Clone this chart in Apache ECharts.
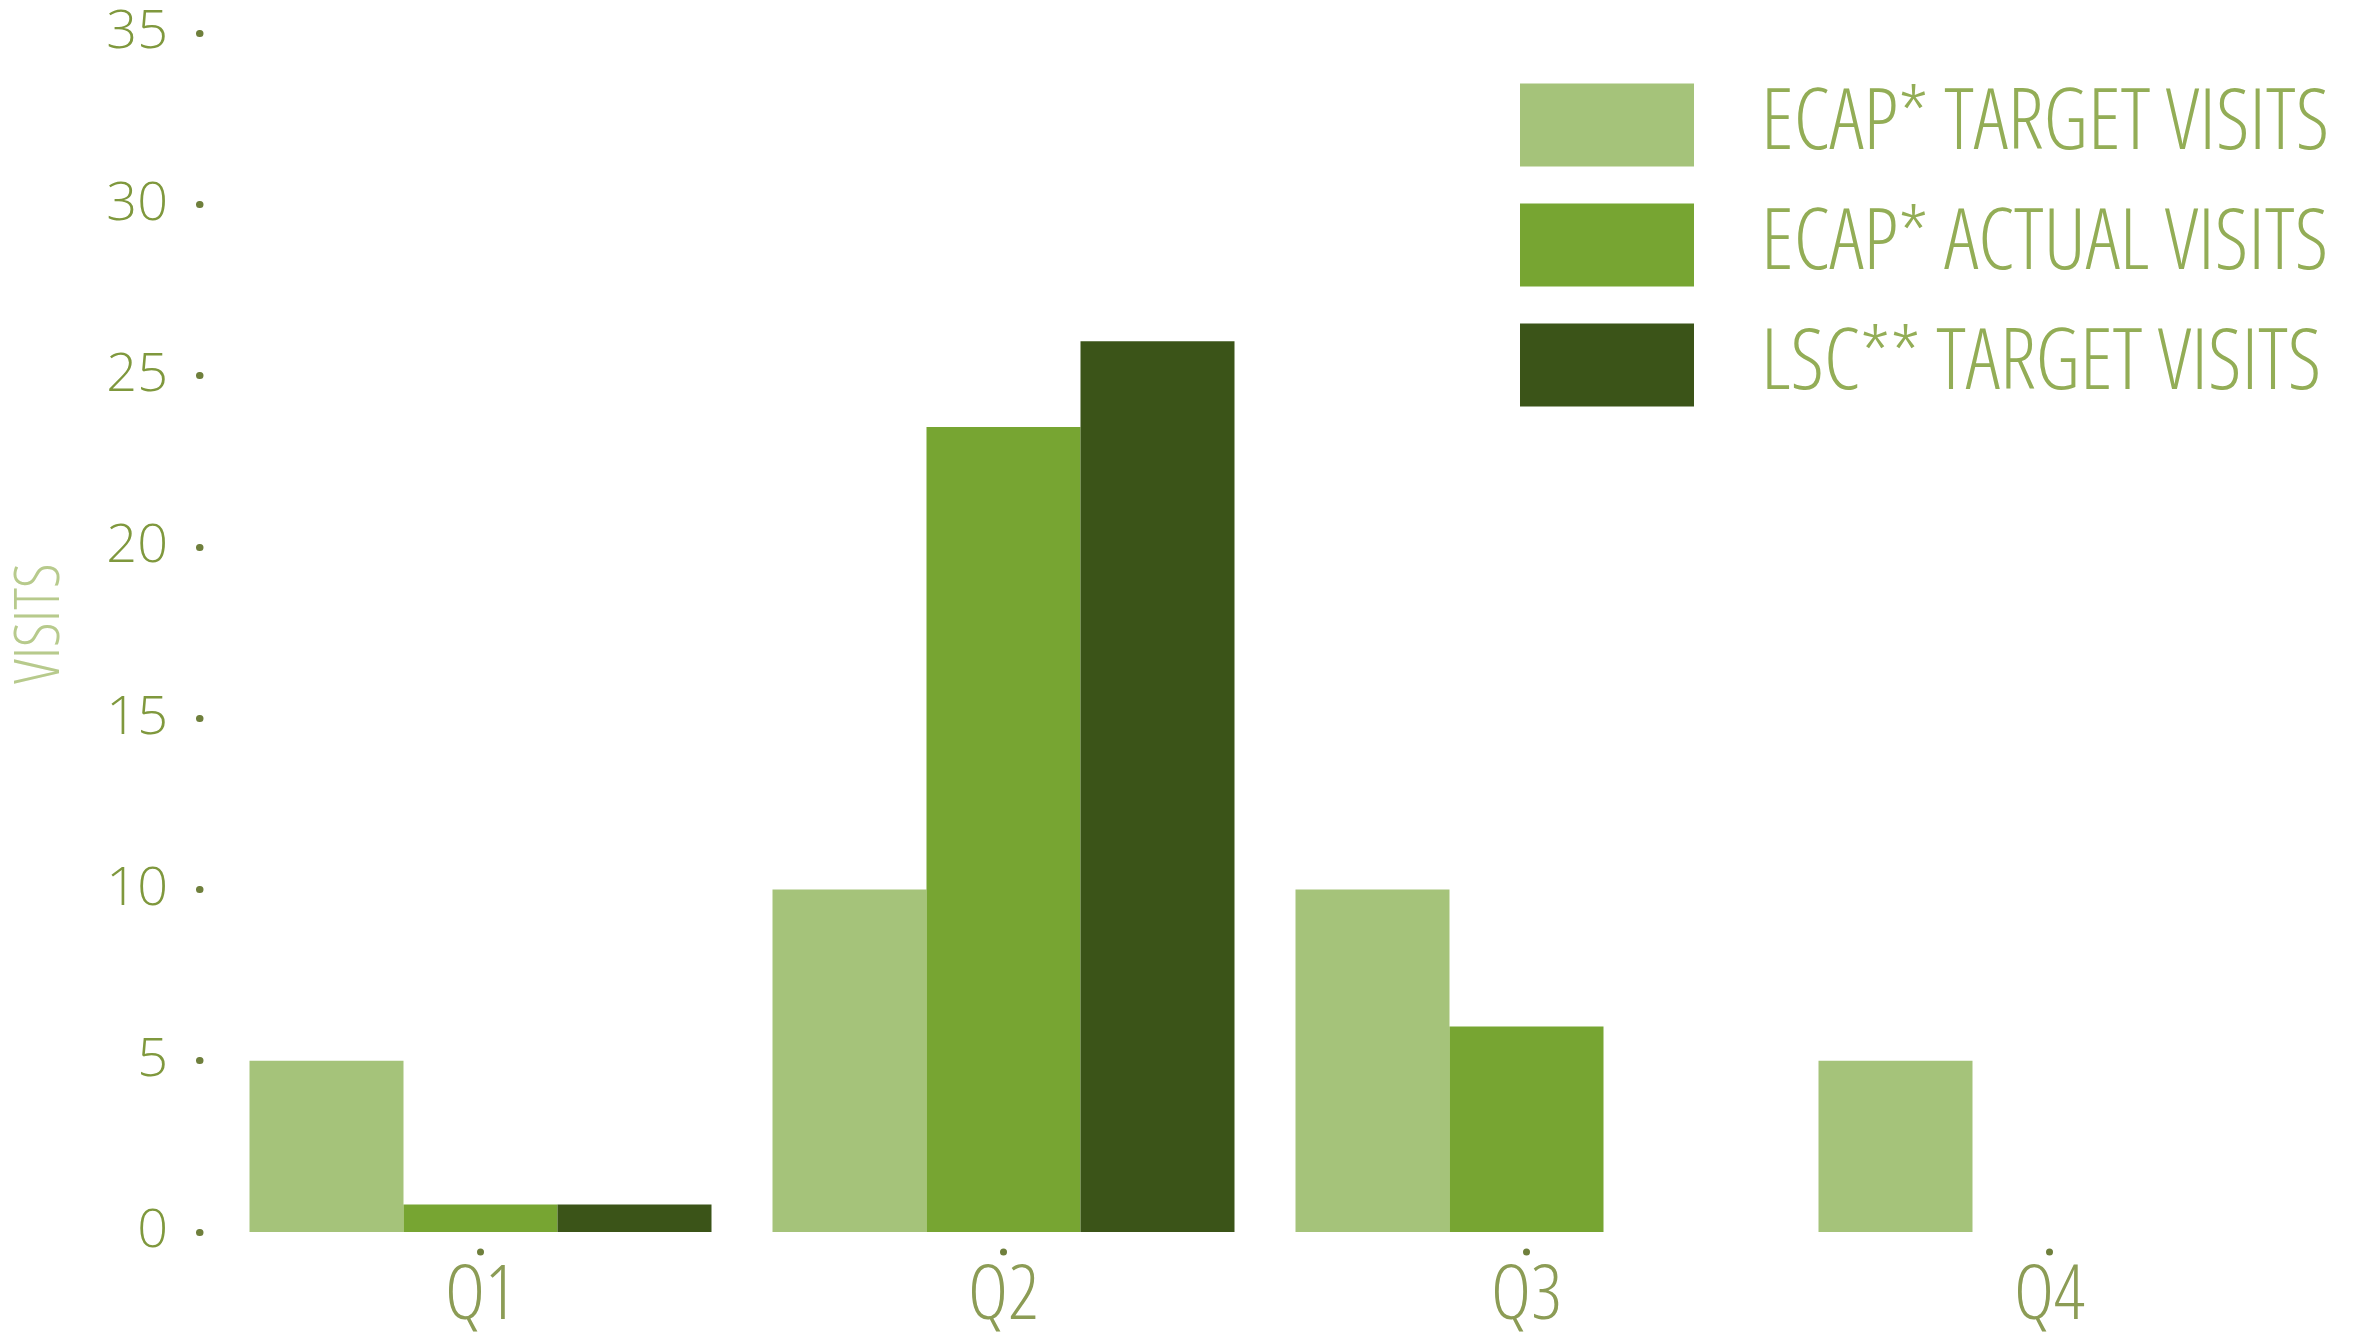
<!DOCTYPE html>
<html>
<head>
<meta charset="utf-8">
<script src="https://cdn.jsdelivr.net/npm/echarts@6/dist/echarts.min.js"></script>
<style>html,body{margin:0;padding:0;background:#fff}#c{width:2371px;height:1335px}</style>
</head>
<body>
<div id="c"></div>
<script>
const categories = ['Q1', 'Q2', 'Q3', 'Q4'];
const seriesNames = ['ECAP* TARGET VISITS', 'ECAP* ACTUAL VISITS', 'LSC** TARGET VISITS'];
const ecapTarget = [5, 10, 10, 5];
const ecapActual = [0.8, 23.5, 6, 0];
const lscTarget = [0.8, 26, 0, 0];
const yMin = 0, yMax = 35, yStep = 5;

const colors = ['#a5c37a', '#77a532', '#3b5418'];
const condensed = "'Open Sans', sans-serif";
const chart = echarts.init(document.getElementById('c'));
const values = [ecapTarget, ecapActual, lscTarget];
chart.setOption({
  backgroundColor: '#ffffff',
  animation: false,
  grid: { left: 219, right: 60, top: 33, bottom: 103, containLabel: false, outerBoundsMode: 'none' },
  legend: {
    orient: 'vertical',
    left: 1515, top: 78,
    itemWidth: 174, itemHeight: 83, itemGap: 36,
    icon: 'rect',
    data: seriesNames,
    textStyle: { color: '#93ad56', fontSize: 84, fontFamily: condensed, fontStyle: 'condensed', fontWeight: 300, padding: [16, 0, 0, 62] }
  },
  xAxis: {
    type: 'category',
    data: categories,
    axisLine: { show: false },
    axisTick: { show: true, alignWithLabel: true, length: 26, lineStyle: { color: '#6f7f3c', width: 7, cap: 'round', type: [0.01, 1000], dashOffset: -20 } },
    axisLabel: { color: '#8c9c55', fontSize: 76, fontFamily: condensed, fontStyle: 'condensed', fontWeight: 300, margin: 27 },
    splitLine: { show: false }
  },
  yAxis: {
    type: 'value',
    min: yMin, max: yMax, interval: yStep,
    offset: 19,
    name: 'VISITS',
    nameLocation: 'middle',
    nameGap: 128,
    nameRotate: 90,
    nameTextStyle: { color: '#b7ca8c', fontSize: 62, fontFamily: condensed, fontStyle: 'condensed', fontWeight: 300, padding: [0, 0, 0, 18] },
    axisLine: { show: false },
    axisTick: { show: true, length: 0.5, lineStyle: { color: '#6f7f3c', width: 7, cap: 'round' } },
    axisLabel: { color: '#7f983d', fontSize: 54, fontFamily: condensed, fontWeight: 300, margin: 32 },
    splitLine: { show: false }
  },
  series: seriesNames.map((n, i) => ({
    name: n,
    type: 'bar',
    data: values[i],
    barWidth: 154,
    barGap: '0%',
    itemStyle: { color: colors[i] }
  }))
});
</script>
</body>
</html>
